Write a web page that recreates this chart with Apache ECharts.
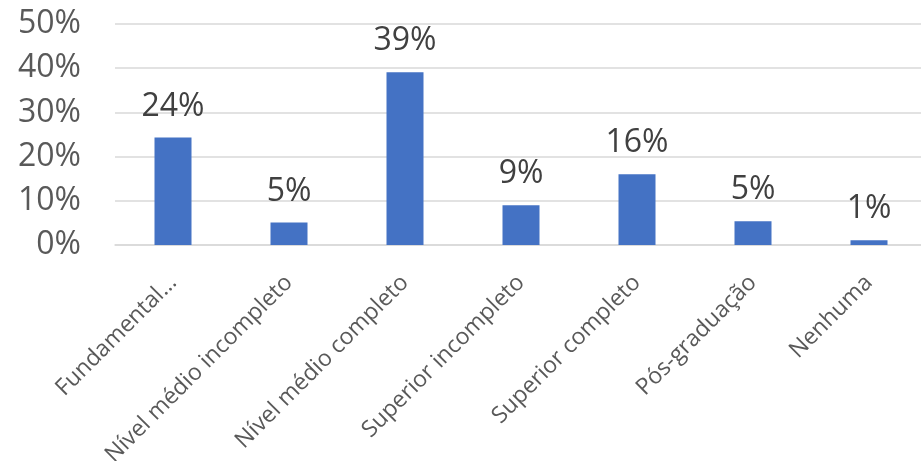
<!DOCTYPE html>
<html>
<head>
<meta charset="utf-8">
<script src="https://cdn.jsdelivr.net/npm/echarts@6/dist/echarts.min.js"></script>
<style>html,body{margin:0;padding:0;background:#fff}#c{width:921px;height:461px}</style>
</head>
<body>
<div id="c"></div>
<script>
const categories = ["Fundamental…", "Nível médio incompleto", "Nível médio completo", "Superior incompleto", "Superior completo", "Pós-graduação", "Nenhuma"];
const values = [24.3, 5.1, 39.1, 9.0, 16.0, 5.4, 1.1];
const labels = ["24%", "5%", "39%", "9%", "16%", "5%", "1%"];
const yTicks = [0, 10, 20, 30, 40, 50];

const chart = echarts.init(document.getElementById('c'), null, {renderer: 'canvas'});
chart.setOption({
  animation: false,
  grid: {left: 115, top: 24, width: 812, height: 221, containLabel: false, outerBoundsMode: 'none'},
  xAxis: {
    type: 'category',
    data: categories,
    axisLine: {show: true, lineStyle: {color: '#D9D9D9', width: 1.5}},
    axisTick: {show: false},
    axisLabel: {
      rotate: 45, margin: 34, interval: 0,
      color: '#595959', fontFamily: 'Open Sans', fontSize: 23
    }
  },
  yAxis: {
    type: 'value', min: 0, max: 50, interval: 10,
    axisLine: {show: false}, axisTick: {show: false},
    splitLine: {lineStyle: {color: '#D9D9D9', width: 1.5}},
    axisLabel: {
      margin: 34, color: '#595959', fontFamily: 'Open Sans', fontSize: 32,
      formatter: v => yTicks.includes(v) ? v + '%' : ''
    }
  },
  series: [{
    type: 'bar',
    data: values,
    barWidth: 37,
    itemStyle: {color: '#4472C4'},
    label: {
      show: true, position: 'top', distance: 15,
      color: '#404040', fontFamily: 'Open Sans', fontSize: 32,
      formatter: p => labels[p.dataIndex]
    }
  }]
});
</script>
</body>
</html>
